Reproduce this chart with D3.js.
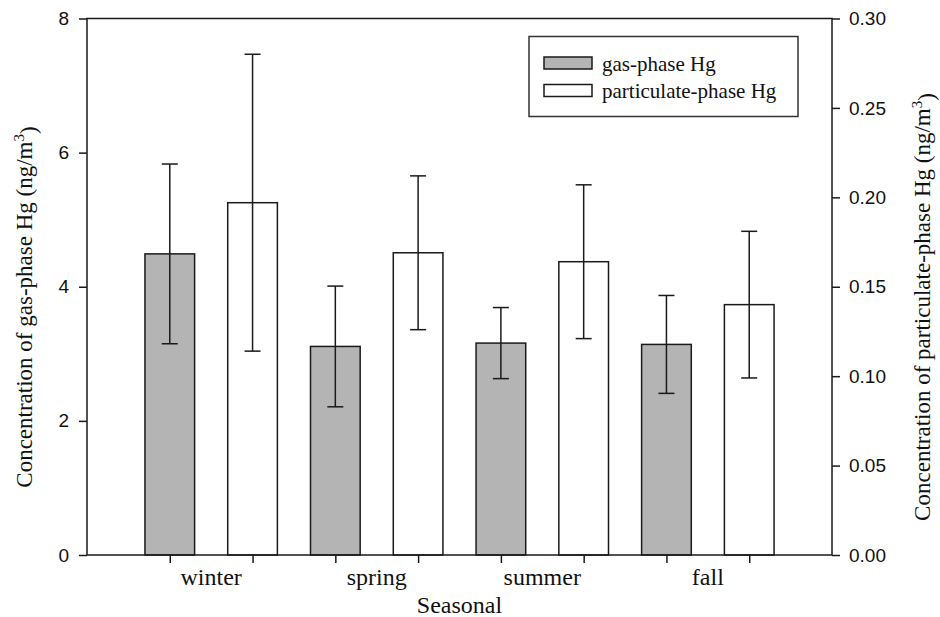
<!DOCTYPE html>
<html>
<head>
<meta charset="utf-8">
<script src="https://cdn.jsdelivr.net/npm/d3@7"></script>
<style>
  body { margin: 0; background: #fff; }
  text { fill: #111; }
</style>
</head>
<body>
<svg></svg>
<script>
// values
const seasons = ["winter", "spring", "summer", "fall"];
const gasHg = [4.49, 3.11, 3.16, 3.14];
const gasErr = [1.34, 0.90, 0.53, 0.73];
const partHg = [0.197, 0.169, 0.164, 0.140];
const partErr = [0.083, 0.043, 0.043, 0.041];
const leftTicks = [0, 2, 4, 6, 8];
const rightTicks = [0, 0.05, 0.10, 0.15, 0.20, 0.25, 0.30];

const width = 940;
const height = 617;
const plotL = 87, plotR = 832, plotT = 18.5, plotB = 555;
const serif = "'Liberation Serif', 'Times New Roman', serif";
const sans = "'Liberation Sans', Arial, sans-serif";
const ink = "#1a1a1a";

const svg = d3.select("svg")
    .attr("width", width)
    .attr("height", height)
    .attr("viewBox", [0, 0, width, height]);

// bar slots 1..8, two per season
const x = d3.scaleLinear().domain([0, 9]).range([plotL, plotR]);
const yL = d3.scaleLinear().domain([0, 8]).range([plotB, plotT]);
const yR = d3.scaleLinear().domain([0, 0.3]).range([plotB, plotT]);
const barW = x(0.6) - x(0);

const bars = [];
seasons.forEach((s, i) => {
    bars.push({ pos: 2 * i + 1, v: gasHg[i], e: gasErr[i], y: yL, fill: "#b4b4b4" });
    bars.push({ pos: 2 * i + 2, v: partHg[i], e: partErr[i], y: yR, fill: "#fff" });
});

svg.append("g")
    .selectAll("rect")
    .data(bars)
    .join("rect")
    .attr("x", d => x(d.pos) - barW / 2)
    .attr("y", d => d.y(d.v))
    .attr("width", barW)
    .attr("height", d => plotB - d.y(d.v))
    .attr("fill", d => d.fill)
    .attr("stroke", ink)
    .attr("stroke-width", 1.5);

// error bars
const err = svg.append("g")
    .attr("stroke", ink)
    .attr("stroke-width", 1.5)
    .selectAll("g")
    .data(bars)
    .join("g");

err.append("line")
    .attr("x1", d => x(d.pos)).attr("x2", d => x(d.pos))
    .attr("y1", d => d.y(d.v + d.e)).attr("y2", d => d.y(d.v - d.e));
err.append("line")
    .attr("x1", d => x(d.pos) - 8).attr("x2", d => x(d.pos) + 8)
    .attr("y1", d => d.y(d.v + d.e)).attr("y2", d => d.y(d.v + d.e));
err.append("line")
    .attr("x1", d => x(d.pos) - 8).attr("x2", d => x(d.pos) + 8)
    .attr("y1", d => d.y(d.v - d.e)).attr("y2", d => d.y(d.v - d.e));

// frame
svg.append("rect")
    .attr("x", plotL).attr("y", plotT)
    .attr("width", plotR - plotL).attr("height", plotB - plotT)
    .attr("fill", "none")
    .attr("stroke", ink)
    .attr("stroke-width", 1.5);

// axes
const axL = svg.append("g")
    .attr("transform", `translate(${plotL},0)`)
    .call(d3.axisLeft(yL).tickValues(leftTicks).tickSize(8).tickSizeOuter(0).tickPadding(10).tickFormat(d3.format("d")));
const axR = svg.append("g")
    .attr("transform", `translate(${plotR},0)`)
    .call(d3.axisRight(yR).tickValues(rightTicks).tickSize(8).tickSizeOuter(0).tickPadding(9).tickFormat(d3.format(".2f")));
const axB = svg.append("g")
    .attr("transform", `translate(0,${plotB})`)
    .call(d3.axisBottom(x).tickValues(d3.range(1, 9)).tickSize(8).tickSizeOuter(0).tickFormat(""));

[axL, axR, axB].forEach(a => {
    a.select(".domain").remove();
    a.selectAll(".tick line").attr("stroke", ink).attr("stroke-width", 1.5);
    a.selectAll(".tick text")
        .style("font-family", sans)
        .style("font-size", "19px")
        .attr("fill", "#111");
});

// season labels
svg.append("g")
    .selectAll("text")
    .data(seasons)
    .join("text")
    .attr("x", (d, i) => x(2 * i + 1.5))
    .attr("y", 585)
    .attr("text-anchor", "middle")
    .style("font-family", serif)
    .style("font-size", "24px")
    .text(d => d);

svg.append("text")
    .attr("x", (plotL + plotR) / 2)
    .attr("y", 613)
    .attr("text-anchor", "middle")
    .style("font-family", serif)
    .style("font-size", "24px")
    .text("Seasonal");

// rotated axis titles with m³
function yTitle(cx, cy, label) {
    const t = svg.append("text")
        .attr("transform", `translate(${cx},${cy}) rotate(-90)`)
        .attr("text-anchor", "middle")
        .style("font-family", serif)
        .style("font-size", "23px");
    t.append("tspan").text(label + " (ng/m");
    t.append("tspan").attr("dy", "-0.55em").style("font-size", "15px").text("3");
    t.append("tspan").attr("dy", "0.55em").text(")");
}
yTitle(32, 307, "Concentration of gas-phase Hg");
yTitle(930, 307, "Concentration of particulate-phase Hg");

// legend
const legend = svg.append("g");
legend.append("rect")
    .attr("x", 529).attr("y", 36.5)
    .attr("width", 269).attr("height", 80)
    .attr("fill", "#fff")
    .attr("stroke", "#333")
    .attr("stroke-width", 1.5);

const legendItems = [
    { label: "gas-phase Hg", fill: "#b4b4b4" },
    { label: "particulate-phase Hg", fill: "#fff" }
];
const li = legend.selectAll("g.item")
    .data(legendItems)
    .join("g")
    .attr("class", "item")
    .attr("transform", (d, i) => `translate(544,${57 + i * 27.5})`);
li.append("rect")
    .attr("width", 48).attr("height", 12)
    .attr("fill", d => d.fill)
    .attr("stroke", ink)
    .attr("stroke-width", 1.5);
li.append("text")
    .attr("x", 58)
    .attr("y", 13.5)
    .style("font-family", serif)
    .style("font-size", "21px")
    .text(d => d.label);
</script>
</body>
</html>
